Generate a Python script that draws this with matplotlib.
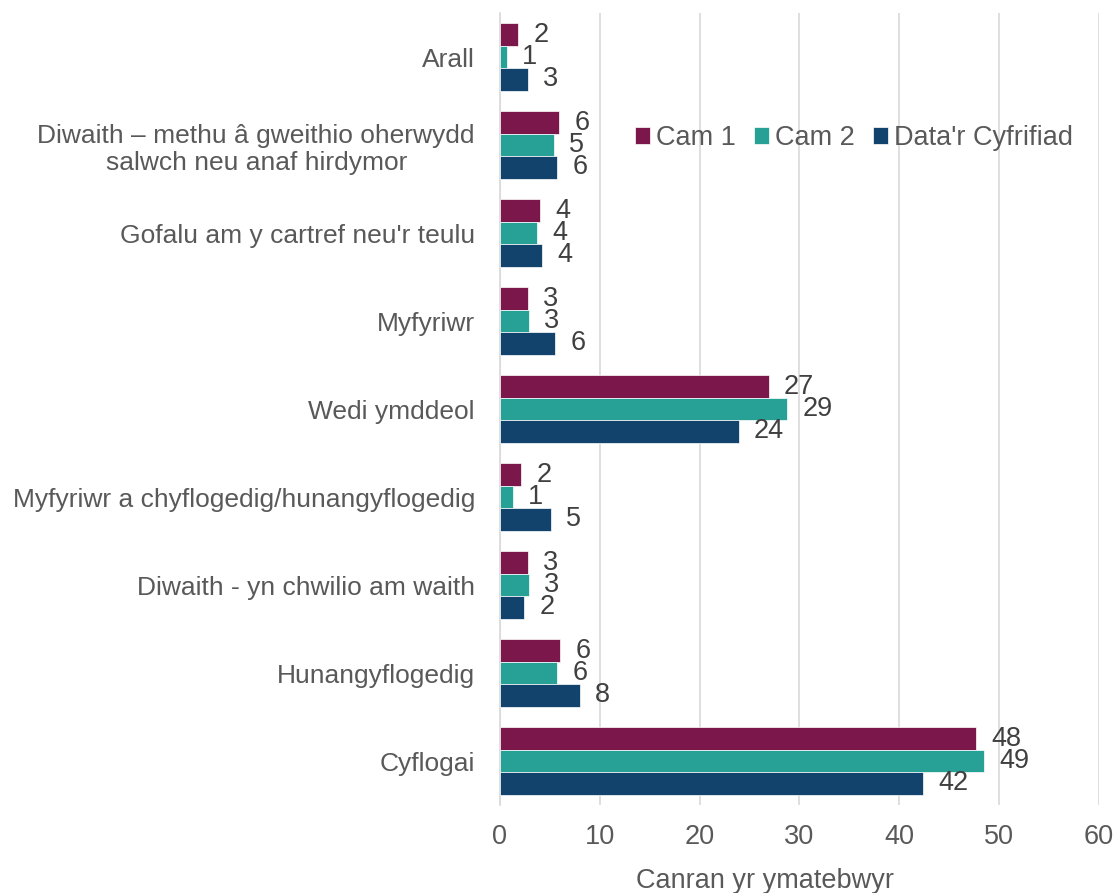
import matplotlib.pyplot as plt
import numpy as np

plt.rcParams['font.family'] = ['Liberation Sans', 'DejaVu Sans']

categories = ["Arall",
              "Diwaith \u2013 methu \u00e2 gweithio oherwydd\nsalwch neu anaf hirdymor",
              "Gofalu am y cartref neu'r teulu",
              "Myfyriwr",
              "Wedi ymddeol",
              "Myfyriwr a chyflogedig/hunangyflogedig",
              "Diwaith - yn chwilio am waith",
              "Hunangyflogedig",
              "Cyflogai"]
series_names = ["Cam 1", "Cam 2", "Data'r Cyfrifiad"]
cam1 = [1.8, 5.9, 4.0, 2.8, 26.9, 2.1, 2.8, 6.0, 47.7]
cam2 = [0.7, 5.4, 3.7, 2.9, 28.8, 1.3, 2.9, 5.7, 48.5]
cyfrifiad = [2.8, 5.7, 4.2, 5.5, 23.9, 5.1, 2.4, 8.0, 42.4]
labels_cam1 = [2, 6, 4, 3, 27, 2, 3, 6, 48]
labels_cam2 = [1, 5, 4, 3, 29, 1, 3, 6, 49]
labels_cyfrifiad = [3, 6, 4, 6, 24, 5, 2, 8, 42]
colours = ["#7B174A", "#27A196", "#12436D"]

fig = plt.figure(figsize=(11.14, 8.93), dpi=100)
ax = fig.add_axes([0.4488, 0.0985, 0.5377, 0.8869])

y = np.arange(len(categories))
h = 0.255
values = [cam1, cam2, cyfrifiad]
labels = [labels_cam1, labels_cam2, labels_cyfrifiad]
fs = 19.5
for i, (vals, labs) in enumerate(zip(values, labels)):
    pos = y + (i - 1) * h
    ax.barh(pos, vals, height=h, color=colours[i], label=series_names[i],
            edgecolor='white', linewidth=0.5, zorder=3)
    for p, v, lab in zip(pos, vals, labs):
        ax.annotate(str(lab), (v, p), xytext=(11, 0), textcoords='offset points',
                    ha='left', va='center', fontsize=fs, color='#404040')

ax.set_ylim(len(categories) - 0.5, -0.5)
ax.set_xlim(0, 60)
ax.set_xticks(range(0, 61, 10))
ax.set_yticks(y)
ax.set_yticklabels(categories, fontsize=19, color='#595959', multialignment='center')
ax.tick_params(axis='y', length=0, pad=18)
ax.tick_params(axis='x', length=0, labelsize=fs, labelcolor='#595959', pad=14)
ax.grid(axis='x', color='#D9D9D9', linewidth=1.2, zorder=0)
for s in ['top', 'right', 'bottom']:
    ax.spines[s].set_visible(False)
ax.spines['left'].set_color('#D9D9D9')
ax.spines['left'].set_linewidth(1.2)

ax.set_xlabel("Canran yr ymatebwyr", fontsize=fs, color='#595959')
ax.xaxis.set_label_coords(0.442, -0.079)

ax.legend(loc='center right', bbox_to_anchor=(0.997, 0.842), ncol=3, frameon=False,
          fontsize=fs, labelcolor='#595959', handlelength=0.55, handleheight=0.55,
          handletextpad=0.2, columnspacing=0.7)

fig.savefig("out.png", dpi=100)
